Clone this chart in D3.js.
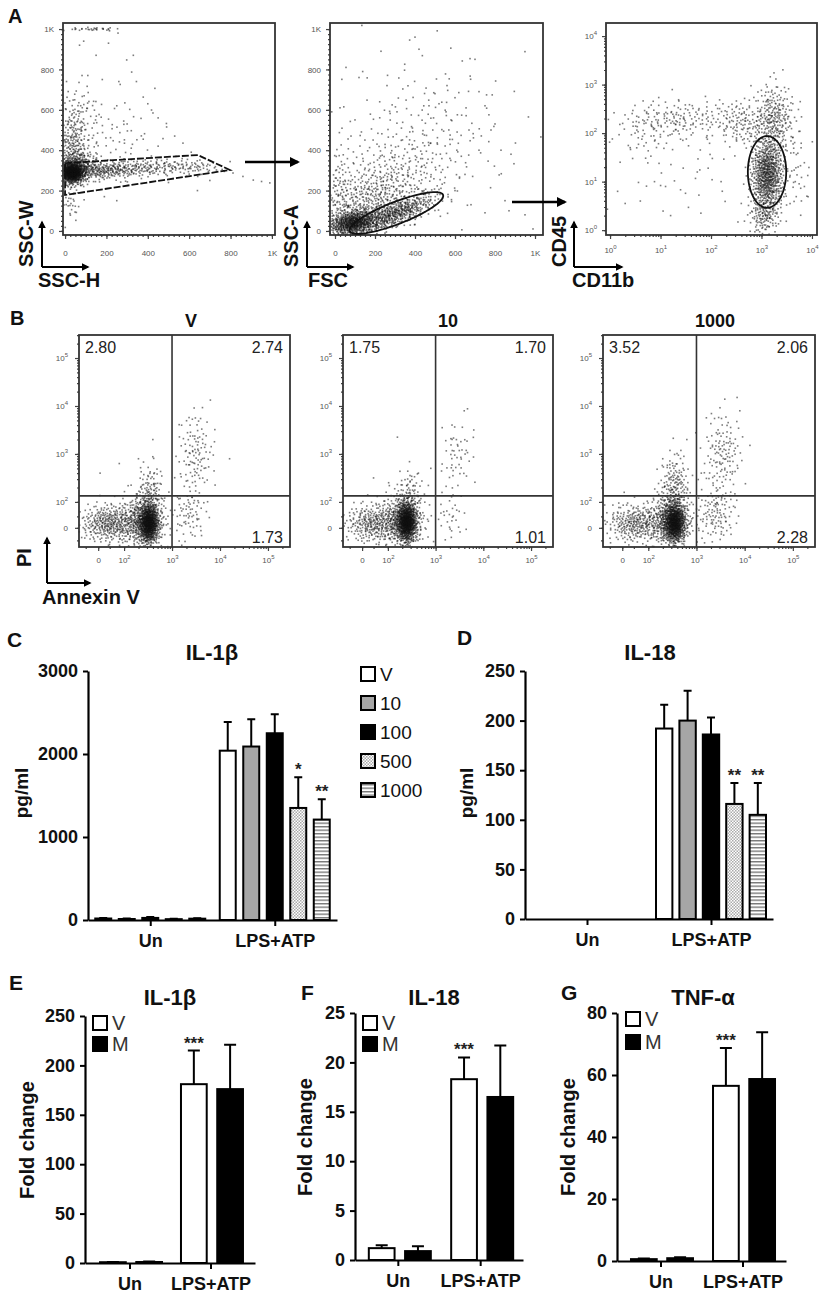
<!DOCTYPE html>
<html>
<head>
<meta charset="utf-8">
<script src="https://cdn.jsdelivr.net/npm/d3@7"></script>
<style>
  body { margin: 0; background: #fff; }
  svg text { font-family: "Liberation Sans", Arial, Helvetica, sans-serif; }
</style>
</head>
<body>
<svg id="fig" width="825" height="1300"></svg>
<script>
// ---------- data ----------

// Panel A: clouds are [centre x, centre y, spread x, spread y, count, tilt deg] in axis units
const aLinTicks = [0, 200, 400, 600, 800, 1000];
const aLinLabels = ["0", "200", "400", "600", "800", "1K"];
const a1Clouds = [
    [35, 288, 27, 24, 700, 0],
    [60, 320, 45, 42, 280, 0],
    [180, 300, 90, 22, 230, 3],
    [400, 312, 110, 22, 150, 3],
    [620, 315, 70, 18, 50, 0],
    [40, 430, 40, 80, 200, 0],
    [60, 600, 50, 70, 60, 0],
    [25, 150, 25, 60, 40, 0],
    [230, 470, 120, 100, 70, 0],
    [130, 1000, 70, 4, 30, 0]
];
const a1Dots = [
    [256, 980], [298, 847], [322, 787], [345, 740], [378, 663], [400, 630], [418, 599], [450, 560],
    [491, 515], [530, 470], [570, 435], [610, 390], [652, 351], [690, 330], [732, 302], [770, 295],
    [812, 287], [860, 270], [910, 252], [950, 245], [990, 238], [90, 940], [70, 920], [150, 870],
    [210, 930], [260, 740], [330, 870], [300, 530], [250, 620], [180, 750], [110, 770], [90, 220],
    [250, 150], [190, 170], [320, 410], [450, 420], [500, 240], [700, 250], [640, 200]
];
const a1Gate = [[0, 336], [642, 376], [797, 302], [0, 178]];

const a2Clouds = [
    [90, 40, 60, 30, 650, 10],
    [300, 85, 110, 30, 480, 21],
    [180, 150, 120, 80, 380, 30],
    [350, 300, 180, 130, 260, 30],
    [450, 550, 250, 200, 120, 0],
    [30, 200, 30, 120, 80, 0]
];
const a2Dots = [
    [55, 810], [120, 760], [230, 890], [260, 720], [400, 960], [420, 900], [470, 620], [500, 680],
    [520, 630], [560, 720], [580, 550], [600, 660], [670, 500], [700, 850], [720, 690], [750, 620],
    [780, 500], [800, 530], [720, 400], [650, 280], [600, 200], [680, 130], [750, 90], [870, 100],
    [850, 150], [830, 400], [880, 380], [950, 80], [990, 10], [310, 590], [210, 430], [100, 550],
    [80, 470], [25, 610]
];
const a2Gate = { cx: 307, cy: 89, rx: 250, ry: 55, tilt: 21 };

const aLogTicks = [0, 1, 2, 3, 4];
const a3Clouds = [
    [3.12, 1.15, 0.16, 0.38, 750, 0],
    [3.25, 2.3, 0.2, 0.35, 260, 0],
    [3.05, 0.3, 0.15, 0.2, 120, 0],
    [2.6, 2.2, 0.25, 0.25, 110, 0],
    [1.4, 2.3, 0.6, 0.2, 160, 0],
    [0.8, 2.0, 0.4, 0.25, 50, 0],
    [1.5, 1.2, 0.7, 0.5, 40, 0],
    [3.7, 1.2, 0.15, 0.5, 40, 0]
];
const a3Dots = [
    [0.25, 2.2], [0.2, 1.4], [0.15, 0.8], [0.3, 0.55], [1.2, 0.3], [1.8, 0.35], [2.6, 0.55],
    [3.9, 0.7], [0.6, 0.6], [1.1, 0.9], [2.2, 1.0], [0.4, 1.7]
];
const a3Gate = { cx: 3.11, cy: 1.2, rx: 0.38, ry: 0.74, tilt: 0 };

// Panel B (axis units are decades, "0" sits at 1.46)
const bTitles = ["V", "10", "1000"];
const bTicks = [1.46, 2, 3, 4, 5];
const bTickLabels = ["0", "10^2", "10^3", "10^4", "10^5"];
const bGateX = 3;
const bGateY = 2.125;
const bUL = ["2.80", "1.75", "3.52"];
const bUR = ["2.74", "1.70", "2.06"];
const bLR = ["1.73", "1.01", "2.28"];
const b1Clouds = [
    [2.52, 1.55, 0.1, 0.2, 700, 0],
    [2.4, 1.6, 0.22, 0.28, 420, 0],
    [1.72, 1.55, 0.32, 0.2, 380, 0],
    [2.55, 2.2, 0.14, 0.3, 110, 0],
    [3.5, 3.0, 0.18, 0.45, 110, 0],
    [3.35, 1.75, 0.18, 0.3, 70, 0]
];
const b2Clouds = [
    [2.4, 1.58, 0.1, 0.2, 750, 0],
    [2.3, 1.6, 0.22, 0.28, 420, 0],
    [1.7, 1.55, 0.3, 0.2, 300, 0],
    [2.45, 2.2, 0.15, 0.25, 70, 0],
    [3.45, 3.0, 0.17, 0.35, 50, 0],
    [3.3, 1.7, 0.17, 0.3, 35, 0]
];
const b3Clouds = [
    [2.55, 1.56, 0.11, 0.2, 700, 0],
    [2.45, 1.6, 0.22, 0.28, 420, 0],
    [1.75, 1.55, 0.3, 0.2, 300, 0],
    [2.55, 2.3, 0.15, 0.35, 170, 0],
    [3.55, 3.0, 0.2, 0.45, 130, 0],
    [3.4, 1.75, 0.2, 0.3, 110, 0]
];
const b1Dots = [[1.5, 2.6], [1.9, 2.8], [2.3, 2.9], [2.6, 3.3], [4.2, 2.9], [3.2, 3.6]];
const b2Dots = [[1.7, 2.5], [2.2, 3.35], [2.9, 2.7], [3.6, 3.9], [3.8, 3.5]];
const b3Dots = [[1.5, 2.2], [2.8, 3.3], [2.3, 2.9], [3.9, 3.9], [3.1, 2.6]];

// Panels C-G
const groups = ["Un", "LPS+ATP"];
const cSeries = ["V", "10", "100", "500", "1000"];
const cUnMean = [18, 12, 25, 10, 16];
const cUnErr = [6, 5, 10, 4, 6];
const cLpsMean = [2040, 2090, 2250, 1350, 1210];
const cLpsErr = [345, 330, 230, 370, 245];
const cLpsStars = ["", "", "", "*", "**"];
const cTicks = [0, 1000, 2000, 3000];

const dUnMean = [0, 0, 0, 0, 0];
const dUnErr = [0, 0, 0, 0, 0];
const dLpsMean = [192, 200, 186, 116, 105];
const dLpsErr = [24, 30, 17, 21, 32];
const dLpsStars = ["", "", "", "**", "**"];
const dTicks = [0, 50, 100, 150, 200, 250];

const vmSeries = ["V", "M"];
const eUnMean = [0.8, 1.0];
const eUnErr = [0.3, 0.4];
const eLpsMean = [181, 176];
const eLpsErr = [34, 45];
const eTicks = [0, 50, 100, 150, 200, 250];

const fUnMean = [1.2, 0.9];
const fUnErr = [0.3, 0.5];
const fLpsMean = [18.3, 16.5];
const fLpsErr = [2.2, 5.2];
const fTicks = [0, 5, 10, 15, 20, 25];

const gUnMean = [0.6, 0.9];
const gUnErr = [0.2, 0.3];
const gLpsMean = [56.5, 58.7];
const gLpsErr = [12.2, 15.1];
const gTicks = [0, 20, 40, 60, 80];

const vmStars = ["***", ""];
const noStars = ["", ""];

// ---------- drawing ----------
const FONT = '"Liberation Sans", Arial, Helvetica, sans-serif';
const svg = d3.select("#fig");
const defs = svg.append("defs");

defs.append("marker").attr("id", "arr").attr("viewBox", "0 0 10 10")
    .attr("refX", 8).attr("refY", 5).attr("markerWidth", 4).attr("markerHeight", 4)
    .attr("orient", "auto")
    .append("path").attr("d", "M0,0L10,5L0,10z").attr("fill", "#000");

const pDots = defs.append("pattern").attr("id", "dots").attr("width", 3).attr("height", 3)
    .attr("patternUnits", "userSpaceOnUse");
pDots.append("rect").attr("width", 3).attr("height", 3).attr("fill", "#fff");
pDots.append("rect").attr("width", 1.5).attr("height", 1.5).attr("fill", "#aaa");
pDots.append("rect").attr("x", 1.5).attr("y", 1.5).attr("width", 1.5).attr("height", 1.5).attr("fill", "#aaa");

const pStripes = defs.append("pattern").attr("id", "stripes").attr("width", 4).attr("height", 3.5)
    .attr("patternUnits", "userSpaceOnUse");
pStripes.append("rect").attr("width", 4).attr("height", 3.5).attr("fill", "#fff");
pStripes.append("rect").attr("width", 4).attr("height", 1.4).attr("fill", "#777");

const cFills = ["#fff", "#a6a6a6", "#000", "url(#dots)", "url(#stripes)"];
const vmFills = ["#fff", "#000"];

function txt(x, y, s, size, opts = {}) {
    return svg.append("text").attr("x", x).attr("y", y).text(s)
        .attr("font-size", size)
        .attr("font-weight", opts.weight || "bold")
        .attr("text-anchor", opts.anchor || "start")
        .attr("fill", opts.fill || "#111");
}

function vtxt(x, y, s, size, anchor) {
    return svg.append("text").attr("transform", `translate(${x},${y}) rotate(-90)`)
        .text(s).attr("font-size", size).attr("font-weight", "bold")
        .attr("text-anchor", anchor || "middle").attr("fill", "#111");
}

// deterministic low-discrepancy sequence to lay dots inside each read-off cloud
let seq = 1;
function halton(i, b) {
    let f = 1, r = 0;
    while (i > 0) { f /= b; r += f * (i % b); i = Math.floor(i / b); }
    return r;
}
function cloudPoints(c) {
    const [cx, cy, sx, sy, n, tilt] = c;
    const a = tilt * Math.PI / 180;
    const pts = [];
    for (let k = 0; k < n; k++, seq++) {
        const i = seq * 17 + 3;
        const u1 = halton(i, 2) || 1e-6, u2 = halton(i, 3);
        const r = Math.min(Math.sqrt(-2 * Math.log(u1)), 3);
        const gx = r * Math.cos(2 * Math.PI * u2) * sx;
        const gy = r * Math.sin(2 * Math.PI * u2) * sy;
        pts.push([cx + gx * Math.cos(a) - gy * Math.sin(a), cy + gx * Math.sin(a) + gy * Math.cos(a)]);
    }
    return pts;
}

function supLabels(sel) {
    sel.selectAll("text").each(function () {
        const t = d3.select(this);
        const s = t.text();
        if (s.includes("^")) {
            const [b, e] = s.split("^");
            t.text(b);
            t.append("tspan").attr("dy", -4).attr("font-size", 6).text(e);
        }
    });
}

function flowPlot(c) {
    const x = d3.scaleLinear().domain(c.xd).range([c.l, c.r]);
    const y = d3.scaleLinear().domain(c.yd).range([c.b, c.t]);
    const g = svg.append("g");
    const inside = p => p[0] > c.xd[0] && p[0] < c.xd[1] && p[1] > c.yd[0] && p[1] < c.yd[1];
    const pts = c.clouds.flatMap(cloudPoints).concat(c.dots).filter(inside);

    g.append("g").selectAll("rect").data(pts).join("rect")
        .attr("x", d => x(d[0]) - 0.8).attr("y", d => y(d[1]) - 0.8)
        .attr("width", 1.6).attr("height", 1.6)
        .attr("fill", "#111").attr("fill-opacity", 0.55);

    const minorX = c.xMinor.filter(v => v > c.xd[0] && v < c.xd[1]);
    const minorY = c.yMinor.filter(v => v > c.yd[0] && v < c.yd[1]);
    g.append("g").attr("transform", `translate(0,${c.b})`)
        .call(d3.axisBottom(x).tickValues(minorX).tickSize(2).tickFormat(""))
        .call(a => a.select(".domain").remove());
    g.append("g").attr("transform", `translate(${c.l},0)`)
        .call(d3.axisLeft(y).tickValues(minorY).tickSize(2).tickFormat(""))
        .call(a => a.select(".domain").remove());

    const xa = g.append("g").attr("transform", `translate(0,${c.b})`)
        .call(d3.axisBottom(x).tickValues(c.ticks).tickSize(4).tickPadding(c.xPad)
            .tickFormat((v, i) => c.labels[i]));
    const ya = g.append("g").attr("transform", `translate(${c.l},0)`)
        .call(d3.axisLeft(y).tickValues(c.ticks).tickSize(4).tickPadding(c.yPad)
            .tickFormat((v, i) => c.labels[i]));
    [xa, ya].forEach(a => {
        a.select(".domain").remove();
        a.selectAll("text").attr("font-size", 8).attr("fill", "#555").attr("font-family", FONT);
        supLabels(a);
    });
    g.selectAll(".tick line").attr("stroke", "#444").attr("stroke-width", 1.2);

    g.append("rect").attr("x", c.l).attr("y", c.t)
        .attr("width", c.r - c.l).attr("height", c.b - c.t)
        .attr("fill", "none").attr("stroke", "#333").attr("stroke-width", 1.8);
    return { x, y, g };
}

function ellipseGate(p, e) {
    const a = e.tilt * Math.PI / 180;
    const ring = d3.range(0, 64).map(k => {
        const t = k / 64 * 2 * Math.PI;
        const ex = e.rx * Math.cos(t), ey = e.ry * Math.sin(t);
        return [e.cx + ex * Math.cos(a) - ey * Math.sin(a), e.cy + ex * Math.sin(a) + ey * Math.cos(a)];
    });
    p.g.append("path")
        .attr("d", d3.line().x(d => p.x(d[0])).y(d => p.y(d[1])).curve(d3.curveLinearClosed)(ring))
        .attr("fill", "none").attr("stroke", "#111").attr("stroke-width", 1.8);
}

function axisArrows(xv, yTop, yCorner, xRight) {
    svg.append("path").attr("d", `M${xv},${yCorner}V${yTop}`)
        .attr("stroke", "#000").attr("stroke-width", 2).attr("marker-end", "url(#arr)");
    svg.append("path").attr("d", `M${xv},${yCorner}H${xRight}`)
        .attr("stroke", "#000").attr("stroke-width", 2).attr("marker-end", "url(#arr)");
}

// ---- Panel A ----
const linMinor = d3.range(0, 1001, 25);
const logMinor = [];
[0, 1, 2, 3].forEach(n => d3.range(1, 10).forEach(k => logMinor.push(Math.log10(k * Math.pow(10, n)))));

txt(8, 23, "A", 20);

const a1 = flowPlot({
    l: 63, r: 275, t: 23, b: 235, xd: [-10, 1015], yd: [-20, 1030],
    ticks: aLinTicks, labels: aLinLabels, xMinor: linMinor, yMinor: linMinor,
    xPad: 11, yPad: 5, clouds: a1Clouds, dots: a1Dots
});
a1.g.append("path")
    .attr("d", d3.line().x(d => a1.x(d[0])).y(d => a1.y(d[1])).curve(d3.curveLinearClosed)(a1Gate))
    .attr("fill", "none").attr("stroke", "#111").attr("stroke-width", 1.8)
    .attr("stroke-dasharray", "7,2");

const a2 = flowPlot({
    l: 330, r: 543, t: 23, b: 235, xd: [-25, 1040], yd: [-20, 1030],
    ticks: aLinTicks, labels: aLinLabels, xMinor: linMinor, yMinor: linMinor,
    xPad: 11, yPad: 5, clouds: a2Clouds, dots: a2Dots
});
ellipseGate(a2, a2Gate);

const a3 = flowPlot({
    l: 606, r: 817, t: 23, b: 235, xd: [-0.08, 4.1], yd: [-0.1, 4.27],
    ticks: aLogTicks, labels: aLogTicks.map(v => "10^" + v), xMinor: logMinor, yMinor: logMinor,
    xPad: 8, yPad: 5, clouds: a3Clouds, dots: a3Dots
});
ellipseGate(a3, a3Gate);

// arrows between gating steps
svg.append("path").attr("d", "M245,162H298").attr("stroke", "#000").attr("stroke-width", 2.5)
    .attr("marker-end", "url(#arr)");
svg.append("path").attr("d", "M512,202H565").attr("stroke", "#000").attr("stroke-width", 2.5)
    .attr("marker-end", "url(#arr)");

vtxt(33, 267, "SSC-W", 20, "start");
axisArrows(42, 222, 267, 88);
txt(38, 287, "SSC-H", 20);

vtxt(298, 267, "SSC-A", 20, "start");
axisArrows(307, 222, 267, 353);
txt(308, 287, "FSC", 20);

vtxt(566, 267, "CD45", 20, "start");
axisArrows(574, 222, 267, 622);
txt(572, 287, "CD11b", 20);

// ---- Panel B ----
const bMinor = [1.2, 1.46, 1.7];
[2, 3, 4, 5].forEach(n => d3.range(1, 10).forEach(k => bMinor.push(Math.log10(k * Math.pow(10, n)))));

txt(10, 325, "B", 20);
const bFrames = [[79, 290], [343, 553], [603, 815]];
const bTitleX = [191, 448, 715];
const bClouds = [b1Clouds, b2Clouds, b3Clouds];
const bDots = [b1Dots, b2Dots, b3Dots];

bFrames.forEach((f, i) => {
    const p = flowPlot({
        l: f[0], r: f[1], t: 335, b: 547, xd: [1.06, 5.46], yd: [1.06, 5.48],
        ticks: bTicks, labels: bTickLabels, xMinor: bMinor, yMinor: bMinor,
        xPad: 6, yPad: 7, clouds: bClouds[i], dots: bDots[i]
    });
    p.g.append("line").attr("x1", p.x(bGateX)).attr("x2", p.x(bGateX))
        .attr("y1", p.y(5.48)).attr("y2", p.y(1.06))
        .attr("stroke", "#333").attr("stroke-width", 1.6);
    p.g.append("line").attr("x1", p.x(1.06)).attr("x2", p.x(5.46))
        .attr("y1", p.y(bGateY)).attr("y2", p.y(bGateY))
        .attr("stroke", "#333").attr("stroke-width", 1.6);
    txt(f[0] + 6, 353, bUL[i], 16, { weight: "normal", fill: "#222" });
    txt(f[1] - 7, 353, bUR[i], 16, { weight: "normal", fill: "#222", anchor: "end" });
    txt(f[1] - 7, 543, bLR[i], 16, { weight: "normal", fill: "#222", anchor: "end" });
    txt(bTitleX[i], 327, bTitles[i], 18, { anchor: "middle" });
});

vtxt(31, 567, "PI", 20, "start");
axisArrows(47, 538, 583, 90);
txt(42, 604, "Annexin V", 20);

// ---- bar panels ----
function barPanel(c) {
    const y = d3.scaleLinear().domain([0, c.max]).range([c.y0, c.y1]);
    const x = d3.scalePoint().domain(groups).range([c.x0, c.x1]).padding(c.pad);
    const xi = d3.scaleBand().domain(c.series).range([-c.half, c.half]).paddingInner(c.gap);
    const rows = [];
    groups.forEach((grp, gi) => c.series.forEach((s, si) =>
        rows.push({ grp, s, si, v: c.means[gi][si], e: c.errs[gi][si], star: c.stars[gi][si] })));
    const mid = d => x(d.grp) + c.shift + xi(d.s) + xi.bandwidth() / 2;
    const g = svg.append("g");

    g.selectAll(".err").data(rows.filter(d => d.e > 0)).join("path").attr("class", "err")
        .attr("d", d => `M${mid(d)},${y(d.v)}V${y(d.v + d.e)}M${mid(d) - c.cap / 2},${y(d.v + d.e)}H${mid(d) + c.cap / 2}`)
        .attr("stroke", "#000").attr("stroke-width", 2).attr("fill", "none");

    g.selectAll(".bar").data(rows).join("rect").attr("class", "bar")
        .attr("x", d => x(d.grp) + c.shift + xi(d.s)).attr("y", d => y(d.v))
        .attr("width", xi.bandwidth()).attr("height", d => y(0) - y(d.v))
        .attr("fill", d => c.fills[d.si]).attr("stroke", "#000").attr("stroke-width", 2);

    g.selectAll(".star").data(rows.filter(d => d.star)).join("text").attr("class", "star")
        .attr("x", mid).attr("y", d => y(d.v + d.e) - 2)
        .attr("text-anchor", "middle").attr("font-size", 17).attr("font-weight", "bold")
        .attr("fill", "#222").text(d => d.star);

    const ya = g.append("g").attr("transform", `translate(${c.x0},0)`)
        .call(d3.axisLeft(y).tickValues(c.ticks).tickSize(5).tickPadding(5).tickSizeOuter(0)
            .tickFormat(d3.format("d")));
    const xa = g.append("g").attr("transform", `translate(0,${c.y0})`)
        .call(d3.axisBottom(x).tickSize(6).tickPadding(8).tickSizeOuter(0));
    [ya, xa].forEach(a => {
        a.select(".domain").attr("stroke-width", 2.2).attr("stroke", "#000");
        a.selectAll(".tick line").attr("stroke-width", 2).attr("stroke", "#000");
        a.selectAll("text").attr("font-size", 18).attr("font-weight", "bold")
            .attr("font-family", FONT).attr("fill", "#111");
    });

    txt(c.letter[1], c.letter[2], c.letter[0], 21);
    txt(c.title[1], c.title[2], c.title[0], 22, { anchor: "middle" });
    vtxt(c.ylab[1], c.ylab[2], c.ylab[0], c.ylabSize);
}

function legend(items, fills, x, y0, step, size, fontSize, textFill) {
    const g = svg.append("g");
    items.forEach((s, i) => {
        const cy = y0 + i * step;
        g.append("rect").attr("x", x).attr("y", cy - size / 2).attr("width", size).attr("height", size)
            .attr("fill", fills[i]).attr("stroke", "#000").attr("stroke-width", 2);
        g.append("text").attr("x", x + size + 5).attr("y", cy + fontSize * 0.36).text(s)
            .attr("font-size", fontSize).attr("fill", textFill);
    });
}

// Panel C
barPanel({
    x0: 88, x1: 337, y0: 920, y1: 671, max: 3000, ticks: cTicks, pad: 0.5, shift: 0,
    series: cSeries, half: 55, gap: 0.32, cap: 8, fills: cFills,
    means: [cUnMean, cLpsMean], errs: [cUnErr, cLpsErr], stars: [["", "", "", "", ""], cLpsStars],
    letter: ["C", 7, 647], title: ["IL-1β", 212, 660], ylab: ["pg/ml", 28, 793], ylabSize: 19
});
legend(cSeries, cFills, 361, 674, 29, 14, 19, "#111");

// Panel D
barPanel({
    x0: 525, x1: 773, y0: 919, y1: 671, max: 250, ticks: dTicks, pad: 0.5, shift: 0,
    series: cSeries, half: 55, gap: 0.3, cap: 8, fills: cFills,
    means: [dUnMean, dLpsMean], errs: [dUnErr, dLpsErr], stars: [["", "", "", "", ""], dLpsStars],
    letter: ["D", 457, 645], title: ["IL-18", 650, 660], ylab: ["pg/ml", 473, 793], ylabSize: 19
});

// Panel E
barPanel({
    x0: 85, x1: 255, y0: 1263, y1: 1016, max: 250, ticks: eTicks, pad: 0.55, shift: 1.5,
    series: vmSeries, half: 31, gap: 0.29, cap: 12, fills: vmFills,
    means: [eUnMean, eLpsMean], errs: [eUnErr, eLpsErr], stars: [noStars, vmStars],
    letter: ["E", 9, 990], title: ["IL-1β", 170, 1005], ylab: ["Fold change", 34, 1140], ylabSize: 20
});
legend(vmSeries, vmFills, 93, 1023, 21, 14, 20, "#333");

// Panel F
barPanel({
    x0: 355, x1: 523, y0: 1260, y1: 1013, max: 25, ticks: fTicks, pad: 0.52, shift: 2,
    series: vmSeries, half: 31, gap: 0.29, cap: 12, fills: vmFills,
    means: [fUnMean, fLpsMean], errs: [fUnErr, fLpsErr], stars: [noStars, vmStars],
    letter: ["F", 301, 1000], title: ["IL-18", 434, 1005], ylab: ["Fold change", 312, 1137], ylabSize: 20
});
legend(vmSeries, vmFills, 363, 1023, 21, 14, 20, "#333");

// Panel G
barPanel({
    x0: 617, x1: 786, y0: 1261, y1: 1013, max: 80, ticks: gTicks, pad: 0.53, shift: 1.5,
    series: vmSeries, half: 31, gap: 0.29, cap: 12, fills: vmFills,
    means: [gUnMean, gLpsMean], errs: [gUnErr, gLpsErr], stars: [noStars, vmStars],
    letter: ["G", 561, 1000], title: ["TNF-α", 703, 1005], ylab: ["Fold change", 575, 1137], ylabSize: 20
});
legend(vmSeries, vmFills, 626, 1019, 23, 14, 20, "#333");
</script>
</body>
</html>
